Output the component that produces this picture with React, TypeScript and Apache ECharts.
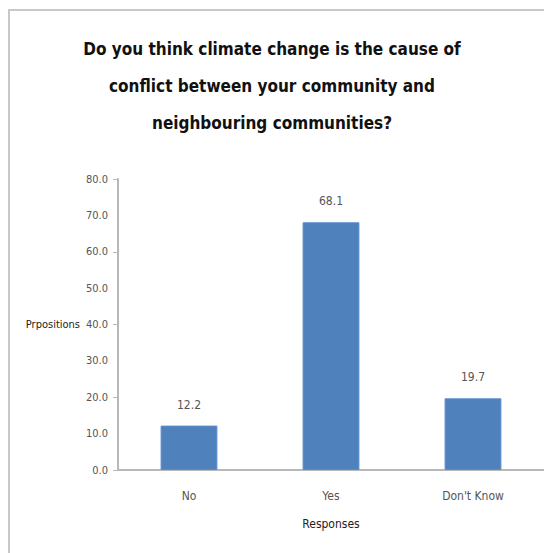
import React, { useEffect, useRef } from "react";
import * as echarts from "echarts";

const categories = ["No", "Yes", "Don't Know"];
const values = [12.2, 68.1, 19.7];
const titleLines = [
  "Do you think climate change is the cause of",
  "conflict between your community and",
  "neighbouring communities?",
];
const yAxisName = "Prpositions";
const xAxisName = "Responses";

const narrow = "'Liberation Sans Narrow', 'DejaVu Sans Condensed', 'Open Sans', sans-serif";

export default function App() {
  const ref = useRef<HTMLDivElement>(null);
  useEffect(() => {
    if (!ref.current) return;
    const chart = echarts.init(ref.current, undefined, { renderer: "svg" });
    chart.setOption({
      animation: false,
      backgroundColor: "#ffffff",
      title: {
        text: titleLines.join("\n"),
        left: "center",
        top: 25,
        textStyle: {
          fontFamily: narrow,
          fontSize: 17,
          fontWeight: "bold",
          color: "#111",
          lineHeight: 37,
        },
      },
      graphic: [
        {
          type: "rect",
          shape: { x: 9, y: 10, width: 560, height: 560 },
          style: { fill: "none", stroke: "#c8c8c8", lineWidth: 2 },
          silent: true,
        },
      ],
      grid: { left: 118, top: 179, width: 432, height: 291 },
      xAxis: {
        type: "category",
        data: categories,
        name: xAxisName,
        nameLocation: "middle",
        nameGap: 48,
        nameTextStyle: { fontFamily: narrow, fontSize: 12, color: "#222" },
        axisLine: { lineStyle: { color: "#b8b8b8", width: 2 } },
        axisTick: { show: false },
        axisLabel: { margin: 20, fontFamily: narrow, fontSize: 12, color: "#555" },
      },
      yAxis: [
        {
          type: "value",
          min: 0,
          max: 80,
          interval: 10,
          name: yAxisName,
          nameLocation: "middle",
          nameRotate: 0,
          nameGap: 38,
          nameTextStyle: { fontFamily: narrow, fontSize: 11, color: "#222", align: "right" },
          axisLine: { show: true, lineStyle: { color: "#b8b8b8", width: 2 } },
          axisTick: { show: false },
          splitLine: { show: false },
          axisLabel: {
            margin: 10,
            fontFamily: narrow,
            fontSize: 11,
            color: "#555",
            formatter: (v: number) => v.toFixed(1),
          },
        },
        {
          type: "value",
          min: 0,
          max: 80,
          interval: 20,
          position: "left",
          axisLine: { show: false },
          axisTick: { show: true, length: 5, lineStyle: { color: "#b8b8b8", width: 1 } },
          axisLabel: { show: false },
          splitLine: { show: false },
        },
      ],
      series: [
        {
          type: "bar",
          data: values,
          barWidth: "40%",
          itemStyle: { color: "#4f81bd", borderColor: "#5a8ccb", borderWidth: 1 },
          label: {
            show: true,
            position: "top",
            distance: 15,
            fontFamily: narrow,
            fontSize: 12,
            color: "#555",
            formatter: (p: any) => p.value.toFixed(1),
          },
        },
      ],
    });
    return () => chart.dispose();
  }, []);
  return (
    <div
      ref={ref}
      style={{ position: "fixed", left: 0, top: 0, width: 544, height: 553 }}
    />
  );
}
